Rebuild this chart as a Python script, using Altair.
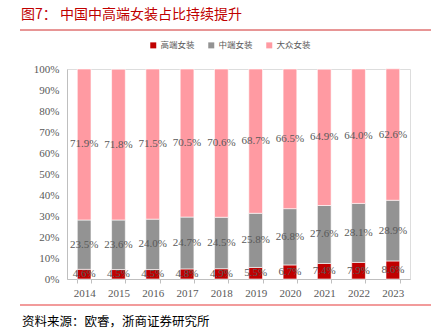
import altair as alt
import pandas as pd

years = ["2014", "2015", "2016", "2017", "2018", "2019", "2020", "2021", "2022", "2023"]
high_end = [4.6, 4.5, 4.5, 4.8, 4.9, 5.5, 6.7, 7.4, 7.9, 8.6]
mid_end = [23.5, 23.6, 24.0, 24.7, 24.5, 25.8, 26.8, 27.6, 28.1, 28.9]
mass = [71.9, 71.8, 71.5, 70.5, 70.6, 68.7, 66.5, 64.9, 64.0, 62.6]
series = ["高端女装", "中端女装", "大众女装"]
colors = ["#C00000", "#939393", "#FF9AA2"]
y_ticks = [0, 10, 20, 30, 40, 50, 60, 70, 80, 90, 100]
title_text = "图7：  中国中高端女装占比持续提升"
source_text = "资料来源：欧睿，浙商证券研究所"

rows = []
for i, y in enumerate(years):
    for k, (name, vals) in enumerate(zip(series, [high_end, mid_end, mass])):
        rows.append({"year": y, "series": name, "k": k, "v": vals[i]})
df = pd.DataFrame(rows)

SERIF = "Liberation Serif"
CJK = "Noto Sans CJK SC"

x_axis = alt.Axis(labelAngle=0, labelFont=SERIF, labelFontSize=11,
                  labelColor="#595959", domainColor="#BFBFBF",
                  tickColor="#BFBFBF", tickSize=4, tickBand="extent",
                  labelPadding=4, title=None)
y_axis = alt.Axis(values=y_ticks, labelExpr="datum.value + '%'",
                  labelOverlap=False, title=None,
                  labelFont=SERIF, labelFontSize=11, labelColor="#595959",
                  grid=False, ticks=False, domainColor="#BFBFBF",
                  labelPadding=8)
x_scale = alt.Scale(paddingInner=0.6, paddingOuter=0.3)
y_scale = alt.Scale(domain=[0, 100], nice=False)

base = alt.Chart(df)

bars = base.mark_bar(stroke="white", strokeWidth=0.6).encode(
    x=alt.X("year:N", sort=years, title=None, scale=x_scale, axis=x_axis),
    y=alt.Y("v:Q", stack="zero", title=None, scale=y_scale, axis=y_axis),
    color=alt.Color("series:N", sort=series,
                    scale=alt.Scale(domain=series, range=colors),
                    legend=alt.Legend(title=None, orient="none", direction="horizontal",
                                      legendX=82, legendY=-28,
                                      symbolType="square", symbolSize=36,
                                      symbolStrokeWidth=0, labelFont=CJK,
                                      labelFontSize=8.5, labelColor="#595959",
                                      labelOffset=3, columnPadding=12)),
    order=alt.Order("k:Q", sort="ascending"),
)

labels = base.transform_stack(
    stack="v", groupby=["year"], as_=["v0", "v1"],
    sort=[alt.SortField("k", order="ascending")]
).transform_calculate(
    mid="(datum.v0 + datum.v1) / 2",
    lab="format(datum.v, '.1f') + '%'"
).mark_text(font=SERIF, fontSize=11, color="#595959", baseline="middle").encode(
    x=alt.X("year:N", sort=years, title=None, scale=x_scale, axis=x_axis),
    y=alt.Y("mid:Q", title=None, scale=y_scale, axis=y_axis),
    text="lab:N",
)

one = alt.Data(values=[{"t": 1}])

title = alt.Chart(alt.Data(values=[{"t": title_text}])).mark_text(
    font=CJK, fontSize=14, color="#C00000", align="left", baseline="middle",
    fontWeight="normal"
).encode(x=alt.value(-46), y=alt.value(-54), text="t:N")

source = alt.Chart(alt.Data(values=[{"t": source_text}])).mark_text(
    font=CJK, fontSize=12.5, color="#000000", align="left", baseline="middle"
).encode(x=alt.value(-45), y=alt.value(253), text="t:N")

top_rule = alt.Chart(one).mark_rule(color="#D02C2C", strokeWidth=1).encode(
    x=alt.value(-47), x2=alt.value(364), y=alt.value(-39))

bottom_rule = alt.Chart(one).mark_rule(color="#EE7A7A", strokeWidth=1.5).encode(
    x=alt.value(-47), x2=alt.value(364), y=alt.value(236))

chart = alt.layer(bars, labels, title, source, top_rule, bottom_rule).properties(
    width=343, height=210,
    autosize=alt.AutoSizeParams(type="none"),
    padding={"left": 67, "top": 69, "right": 33, "bottom": 55},
).configure_view(stroke=None).configure(background="white")

chart.save("out.html", embed_options={"renderer": "svg", "actions": False})
